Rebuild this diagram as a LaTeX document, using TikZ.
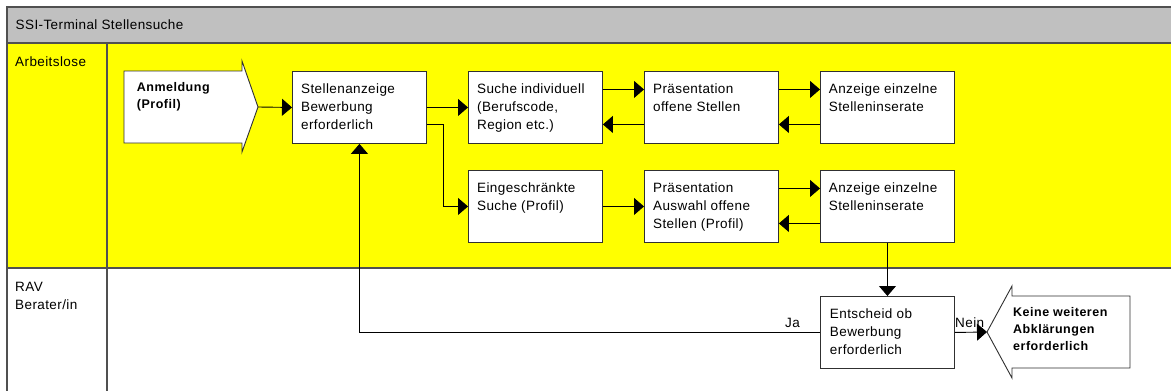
\documentclass[tikz,border=0pt]{standalone}
\usepackage{fontspec}
\setmainfont{Liberation Sans}[LetterSpace=3]
\newfontfamily\bldfont{Liberation Sans}[LetterSpace=4]
\usetikzlibrary{arrows.meta,calc}
\definecolor{hdrgray}{HTML}{C0C0C0}
\definecolor{laneyellow}{HTML}{FFFF00}
\definecolor{framegray}{HTML}{505050}
\definecolor{boxgray}{HTML}{303030}
% #1 width, #2 height, #3 left inset, #4 top skip, #5 font, #6 text
\newcommand\bxtext[6]{\begin{minipage}[t][#2][t]{#1}\vspace{#4}\raggedright\leftskip=#3\relax#5\strut#6\end{minipage}}
\newcommand\regfont{\fontsize{13.5}{18}\selectfont}
\newcommand\bldsmall{\bldfont\bfseries\fontsize{12.5}{17}\selectfont}
\begin{document}
\begin{tikzpicture}[x=1pt,y=-1pt,
  frameline/.style={draw=framegray, line width=1.3pt},
  box/.style={draw=boxgray, line width=0.9pt, fill=white, inner sep=0pt, anchor=north west},
  bodybox/.style={draw=none, inner sep=0pt, anchor=north west},
  outline/.style={draw=boxgray, line width=0.9pt, fill=white},
  conn/.style={draw=black, line width=0.9pt, -{Triangle[length=10pt,width=17pt]}},
  every node/.style={font=\regfont},
  lbl/.style={inner sep=0pt}]
\useasboundingbox (0,0) rectangle (1171,391);
% lanes
\fill[white] (0,0) rectangle (1171,391);
\fill[hdrgray] (7,7) rectangle (1171,43);
\fill[laneyellow] (7,43) rectangle (1171,268);
\draw[frameline] (1171,7) -- (7,7) -- (7,391);
\draw[frameline] (7,43) -- (1171,43);
\draw[frameline] (7,268) -- (1171,268);
\draw[frameline] (107,43) -- (107,391);
% lane labels
\node[lbl, anchor=base west] (title) at (15.5,29) {SSI-Terminal Stellensuche};
\node[lbl, anchor=base west] (lane1) at (15,66) {Arbeitslose};
\node[lbl, anchor=north west, align=left] (lane2) at (15,282.3) {RAV\\Berater/in};
% arrow-shaped nodes
\coordinate (anmtip) at (258,107);
\draw[outline] (124,71) -- (242,71) -- (242,61) -- (anmtip) -- (242,152) -- (242,143) -- (124,143) -- cycle;
\node[bodybox] (anm) at (124,71) {\bxtext{118pt}{72pt}{12.7pt}{8.8pt}{\bldsmall}{Anmeldung\\(Profil)}};
\coordinate (keinetip) at (987,332);
\draw[outline] (1130,296) -- (1012,296) -- (1012,286) -- (keinetip) -- (1012,378) -- (1012,368) -- (1130,368) -- cycle;
\node[bodybox] (keine) at (1012,296) {\bxtext{118pt}{72pt}{1pt}{8.3pt}{\bldsmall}{Keine weiteren\\Abklärungen\\erforderlich}};
% boxes
\node[box] (stell) at (292,71) {\bxtext{134pt}{72pt}{8.7pt}{9pt}{\regfont}{Stellenanzeige\\Bewerbung\\erforderlich}};
\node[box] (suche) at (468,71) {\bxtext{134pt}{72pt}{8.7pt}{9pt}{\regfont}{Suche individuell\\(Berufscode,\\Region etc.)}};
\node[box] (praesA) at (644,71) {\bxtext{134pt}{72pt}{8.7pt}{9pt}{\regfont}{Präsentation\\offene Stellen}};
\node[box] (anzA) at (820,71) {\bxtext{134pt}{72pt}{8.4pt}{9pt}{\regfont}{Anzeige einzelne\\Stelleninserate}};
\node[box] (einge) at (468,170) {\bxtext{134pt}{72pt}{8.7pt}{9pt}{\regfont}{Eingeschränkte\\Suche (Profil)}};
\node[box] (praesB) at (644,170) {\bxtext{134pt}{72pt}{8.7pt}{9pt}{\regfont}{Präsentation\\Auswahl offene\\Stellen (Profil)}};
\node[box] (anzB) at (820,170) {\bxtext{134pt}{72pt}{8.4pt}{9pt}{\regfont}{Anzeige einzelne\\Stelleninserate}};
\node[box] (entsch) at (820,296) {\bxtext{134pt}{72pt}{9.5pt}{9pt}{\regfont}{Entscheid ob\\Bewerbung\\erforderlich}};
% connectors
\draw[conn] (anmtip) -- (stell.west);
\draw[conn] (stell.east) -- (suche.west);
\draw[conn] ($(stell.east)+(0,17)$) -- ++(17,0) |- (einge.west);
\draw[conn] ($(suche.east)+(0,-18)$) -- ($(praesA.west)+(0,-18)$);
\draw[conn] ($(praesA.west)+(0,17)$) -- ($(suche.east)+(0,17)$);
\draw[conn] ($(praesA.east)+(0,-18)$) -- ($(anzA.west)+(0,-18)$);
\draw[conn] ($(anzA.west)+(0,17)$) -- ($(praesA.east)+(0,17)$);
\draw[conn] (einge.east) -- (praesB.west);
\draw[conn] ($(praesB.east)+(0,-18)$) -- ($(anzB.west)+(0,-18)$);
\draw[conn] ($(anzB.west)+(0,17)$) -- ($(praesB.east)+(0,17)$);
\draw[conn] (anzB.south) -- (entsch.north);
\draw[conn] (entsch.west) -| (stell.south);
\draw[conn] (entsch.east) -- (keinetip);
\node[lbl, anchor=base east] (ja) at (800,327) {Ja};
\node[lbl, anchor=base west] (nein) at (955,327) {Nein};
\end{tikzpicture}
\end{document}
